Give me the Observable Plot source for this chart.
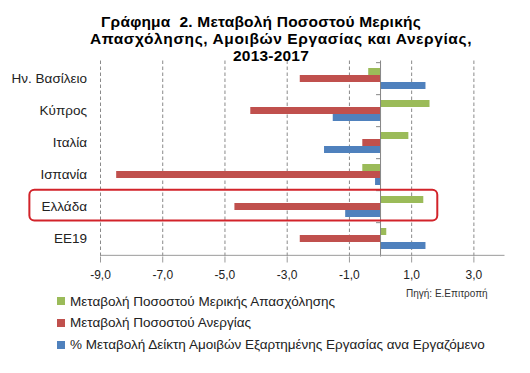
<!DOCTYPE html>
<html>
<head>
<meta charset="utf-8">
<script src="https://cdn.jsdelivr.net/npm/d3@7"></script>
<script src="https://cdn.jsdelivr.net/npm/@observablehq/plot@0.6"></script>
<style>
  html, body { margin: 0; padding: 0; background: #fff; }
  body { width: 530px; height: 373px; position: relative; overflow: hidden; font-family: "Liberation Sans", Arial, sans-serif; color: #111; }
  #chart { position: absolute; left: 0; top: 0; }
  #title { position: absolute; left: 0; top: 0; width: 542px; text-align: center; font-weight: bold; font-size: 15.5px; letter-spacing: 0.2px; line-height: 17px; padding-top: 12.5px; z-index: 2; color: #000; }
  #title div { position: relative; white-space: pre; }
  #title div.wide { letter-spacing: 0.6px; }
  #legend { position: absolute; left: 57px; top: 290.7px; font-size: 13.5px; line-height: 21.6px; color: #222; }
  #legend .item { display: flex; align-items: center; white-space: nowrap; height: 21.6px; }
  #legend .sw { width: 8px; height: 8px; margin-right: 5px; flex: none; }
  #source { position: absolute; left: 406px; top: 288px; font-size: 10px; color: #333; }
</style>
</head>
<body>
<div id="title"></div>
<div id="chart"></div>
<div id="legend"></div>
<div id="source"></div>
<script>
const titleLines = ["Γράφημα  2. Μεταβολή Ποσοστού Μερικής", "Απασχόλησης, Αμοιβών Εργασίας και Ανεργίας,", "2013-2017"];
const countries = ["Ην. Βασίλειο", "Κύπρος", "Ιταλία", "Ισπανία", "Ελλάδα", "ΕΕ19"];
const partTime = [-0.38, 1.59, 0.91, -0.57, 1.39, 0.20];
const unemployment = [-2.58, -4.17, -0.57, -8.48, -4.68, -2.58];
const wages = [1.46, -1.52, -1.80, -0.16, -1.12, 1.46];
const seriesNames = [
  "Μεταβολή Ποσοστού Μερικής Απασχόλησης",
  "Μεταβολή Ποσοστού Ανεργίας",
  "% Μεταβολή Δείκτη Αμοιβών Εξαρτημένης Εργασίας ανα Εργαζόμενο"
];
const seriesColors = ["#9bbb59", "#c0504d", "#4f81bd"];
const xTicks = [-9, -7, -5, -3, -1, 1, 3];
const xDomain = [-9, 4];
const highlightCountry = "Ελλάδα";
const highlightRange = [-11.27, 1.84];
const sourceText = "Πηγή: Ε.Επιτροπή";

const seriesValues = [partTime, unemployment, wages];

// layout
const W = 530, H = 290;
const marginTop = 60.5, marginBottom = 33.5, marginLeft = 100, marginRight = 25.5;
const plotH = H - marginTop - marginBottom;
const step = plotH / countries.length;
const padInner = 0.357;
const bandW = step * (1 - padInner);
const barH = bandW / 3;
const pxPerUnit = (W - marginLeft - marginRight) / (xDomain[1] - xDomain[0]);
const fmt = d => d.toFixed(1).replace(".", ",");

const rows = seriesValues.map(vals => countries.map((c, i) => ({country: c, value: vals[i]})));

const marks = [
  Plot.gridX({ticks: xTicks, stroke: "#8a8a8a", strokeOpacity: 1, strokeDasharray: "3.5,2.5"}),
  ...rows.map((data, k) => Plot.barX(data, {
    y: "country", x1: 0, x2: "value", fill: seriesColors[k],
    insetTop: k * barH, insetBottom: (2 - k) * barH
  })),
  Plot.ruleX([0], {stroke: "#868686"}),
  Plot.ruleY(countries, {y: d => d, dy: -step / 2, x1: -4 / pxPerUnit, x2: 0, stroke: "#868686"}),
  Plot.ruleY([countries[countries.length - 1]], {y: d => d, dy: step / 2, stroke: "#9a9a9a"}),
  Plot.axisX({ticks: xTicks, tickFormat: fmt, tickSize: 6, tickPadding: 7, fontSize: 12, stroke: "#9a9a9a", fill: "#222"}),
  Plot.axisY({tickSize: 0, tickPadding: 13.5, fontSize: 13.5, fill: "#222"}),
  Plot.barX([{country: highlightCountry, x1: highlightRange[0], x2: highlightRange[1]}], {
    y: "country", x1: "x1", x2: "x2", fill: "none", stroke: "#d2232a", strokeWidth: 2, rx: 5,
    insetTop: -6.3, insetBottom: -3.5
  })
];

const chart = Plot.plot({
  width: W, height: H,
  marginTop, marginBottom, marginLeft, marginRight,
  style: {background: "transparent", fontFamily: "'Liberation Sans', Arial, sans-serif", overflow: "visible"},
  x: {domain: xDomain, label: null},
  y: {domain: countries, paddingInner: padInner, paddingOuter: padInner / 2, label: null},
  marks
});
document.getElementById("chart").appendChild(chart);

// title
const offsets = [-10, 10, 0];
const t = document.getElementById("title");
titleLines.forEach((line, i) => {
  const d = document.createElement("div");
  d.textContent = line;
  d.style.left = offsets[i] + "px";
  if (i === 1) d.className = "wide";
  t.appendChild(d);
});

// legend
const lg = document.getElementById("legend");
seriesNames.forEach((name, k) => {
  const it = document.createElement("div");
  it.className = "item";
  const sw = document.createElement("span");
  sw.className = "sw";
  sw.style.background = seriesColors[k];
  const tx = document.createElement("span");
  tx.textContent = name;
  it.appendChild(sw); it.appendChild(tx);
  lg.appendChild(it);
});
document.getElementById("source").textContent = sourceText;
</script>
</body>
</html>
